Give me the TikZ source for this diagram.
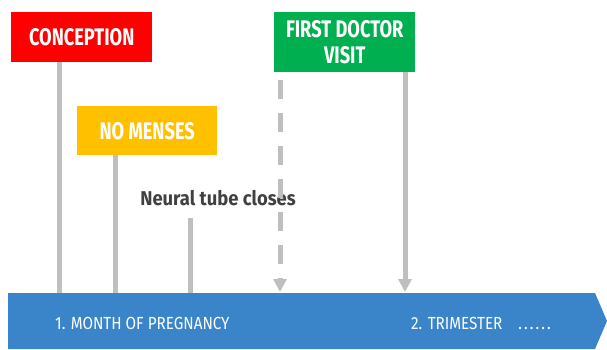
\documentclass[tikz,border=0pt]{standalone}
\usepackage{fontspec}
\setmainfont{Fira Sans}
\newfontfamily\condbold[FakeStretch=0.76]{Fira Sans Bold}
\newfontfamily\neuralfont[FakeStretch=0.92]{Fira Sans Bold}
\newfontfamily\condreg[FakeStretch=0.87]{Fira Sans}
\usetikzlibrary{arrows.meta,calc}
\definecolor{cred}{HTML}{FF0000}
\definecolor{cyellow}{HTML}{FFC000}
\definecolor{cgreen}{HTML}{00B050}
\definecolor{cblue}{HTML}{3A84C9}
\definecolor{cgray}{HTML}{BFBFBF}
\definecolor{ctext}{HTML}{404040}
\tikzset{
  eventbox/.style={anchor=north west, inner sep=0pt, text=white, align=center,
    font=\condbold\fontsize{24}{26}\selectfont},
  stem/.style={draw=cgray, line width=5pt},
  stemarrow/.style={stem, -{Triangle[width=13pt,length=13pt]}, shorten >=0pt},
  dashstem/.style={stemarrow, dash pattern=on 19pt off 14pt},
  barlabel/.style={anchor=west, text=white, inner sep=0pt,
    font=\condreg\fontsize{17.5}{20}\selectfont},
}
\begin{document}
\begin{tikzpicture}[x=1pt,y=-1pt]
\useasboundingbox (0,0) rectangle (607,350);
% timeline bar
\fill[cblue] (8,293) -- (595,293) -- (607,321) -- (595,349) -- (8,349) -- cycle;
\node[inner sep=0pt, minimum width=587pt, minimum height=56pt, anchor=north west] (bar) at (8,293) {};
\node[barlabel] (m1) at (55,323) {1. MONTH OF PREGNANCY};
\node[barlabel] (tri) at (411,323) {2. TRIMESTER\hspace{16pt}{\addfontfeature{LetterSpace=12}......}};
% boxes
\node[eventbox, fill=cred, minimum width=141pt, minimum height=50pt] (conc) at (11,12) {CONCEPTION};
\node[eventbox, fill=cyellow, minimum width=140pt, minimum height=49pt] (mens) at (77,106) {NO MENSES};
\node[eventbox, fill=cgreen, minimum width=141pt, minimum height=60pt] (doc) at (274,12) {FIRST DOCTOR\\VISIT};
\node[anchor=center, inner sep=0pt, text=ctext, font=\neuralfont\fontsize{20}{22}\selectfont] (neural) at (218,198) {Neural tube closes};
% stems
\coordinate (c1) at ($(conc.south west)+(48,0)$);
\draw[stem] (c1) -- (c1 |- bar.north);
\coordinate (c2) at ($(mens.south west)+(38,0)$);
\draw[stem] (c2) -- (c2 |- bar.north);
\coordinate (c3) at (190,218);
\draw[stem] (c3) -- (c3 |- bar.north);
\coordinate (c4) at ($(doc.south west)+(6,8)$);
\draw[dashstem] (c4) -- ($(c4 |- bar.north)+(0,-1)$);
\coordinate (c5) at ($(doc.south west)+(131,0)$);
\draw[stemarrow] (c5) -- ($(c5 |- bar.north)+(0,-1)$);
\end{tikzpicture}
\end{document}
